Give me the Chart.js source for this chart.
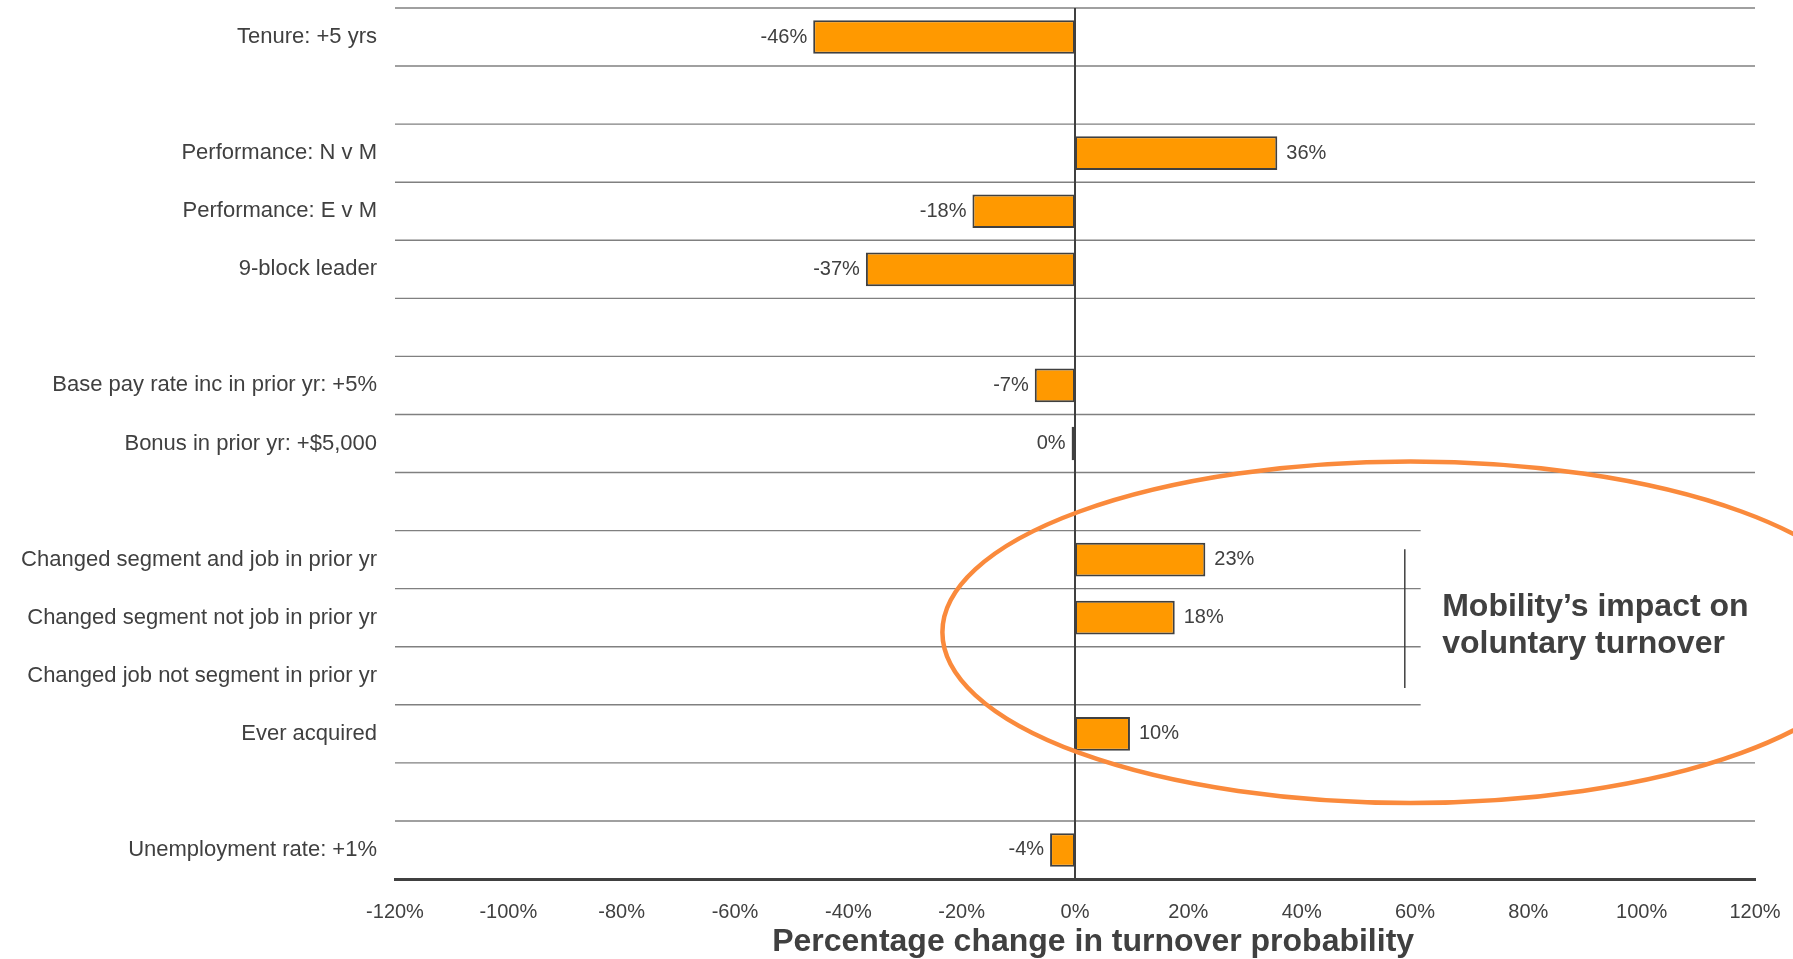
<!DOCTYPE html>
<html>
<head>
<meta charset="utf-8">
<script src="https://cdn.jsdelivr.net/npm/chart.js@4"></script>
<style>
  html, body { margin: 0; padding: 0; background: #ffffff; }
  #turnover-chart { display: block; }
</style>
</head>
<body>
<canvas id="turnover-chart" width="1793" height="959"></canvas>
<script>
const FONT = '"Liberation Sans", Arial, sans-serif';
const TEXT_COLOR = "#404040";

// --- Data ---
const categories = [
  "Tenure: +5 yrs",
  "",
  "Performance: N v M",
  "Performance: E v M",
  "9-block leader",
  "",
  "Base pay rate inc in prior yr: +5%",
  "Bonus in prior yr: +$5,000",
  "",
  "Changed segment and job in prior yr",
  "Changed segment not job in prior yr",
  "Changed job not segment in prior yr",
  "Ever acquired",
  "",
  "Unemployment rate: +1%",
];
const changeValues = [-46.2, null, 35.7, -18.1, -36.9, null, -7.1, -0.6, null, 23.0, 17.6, null, 9.7, null, -4.4];
const barLabels = ["-46%", "", "36%", "-18%", "-37%", "", "-7%", "0%", "", "23%", "18%", "", "10%", "", "-4%"];
const xTickMin = -120;
const xTickMax = 120;
const xTickStep = 20;
const axisTitle = "Percentage change in turnover probability";
const noteLines = ["Mobility\u2019s impact on", "voluntary turnover"];
// rows whose top gridline stops short at the bracket
const shortLineRows = [9, 10, 11, 12];

// --- Row gridlines, zero line ---
const gridPlugin = {
  id: "rowGrid",
  beforeDatasetsDraw(chart) {
    const { ctx, chartArea, scales } = chart;
    const x = scales.x;
    const y = scales.y;
    ctx.save();
    ctx.strokeStyle = "#808080";
    ctx.lineWidth = 1.4;
    for (let i = 0; i < categories.length; i++) {
      const py = y.getPixelForValue(i - 0.5);
      const right = shortLineRows.includes(i) ? x.getPixelForValue(61) : chartArea.right;
      ctx.beginPath();
      ctx.moveTo(chartArea.left, py);
      ctx.lineTo(right, py);
      ctx.stroke();
    }
    const zx = x.getPixelForValue(0);
    ctx.strokeStyle = TEXT_COLOR;
    ctx.lineWidth = 2;
    ctx.beginPath();
    ctx.moveTo(zx, chartArea.top);
    ctx.lineTo(zx, chartArea.bottom);
    ctx.stroke();
    ctx.restore();
  },
};

// --- Value labels next to bars ---
const labelPlugin = {
  id: "barValueLabels",
  afterDatasetsDraw(chart) {
    const { ctx } = chart;
    const meta = chart.getDatasetMeta(0);
    ctx.save();
    ctx.font = `20px ${FONT}`;
    ctx.fillStyle = TEXT_COLOR;
    ctx.textBaseline = "middle";
    meta.data.forEach((bar, i) => {
      if (changeValues[i] === null) return;
      if (changeValues[i] < 0) {
        ctx.textAlign = "right";
        ctx.fillText(barLabels[i], bar.x - 6, bar.y);
      } else {
        ctx.textAlign = "left";
        ctx.fillText(barLabels[i], bar.x + 9, bar.y);
      }
    });
    ctx.restore();
  },
};

// --- Ellipse, bracket, note and axis title ---
const notePlugin = {
  id: "mobilityNote",
  afterDraw(chart) {
    const { ctx, chartArea, scales } = chart;
    const x = scales.x;
    const y = scales.y;
    ctx.save();

    // bracket
    const bx = x.getPixelForValue(58.2);
    ctx.strokeStyle = TEXT_COLOR;
    ctx.lineWidth = 1.5;
    ctx.beginPath();
    ctx.moveTo(bx, y.getPixelForValue(8.82));
    ctx.lineTo(bx, y.getPixelForValue(11.21));
    ctx.stroke();

    // note text
    ctx.font = `bold 32px ${FONT}`;
    ctx.fillStyle = TEXT_COLOR;
    ctx.textAlign = "left";
    ctx.textBaseline = "alphabetic";
    const tx = x.getPixelForValue(64.8);
    ctx.fillText(noteLines[0], tx, y.getPixelForValue(9.97));
    ctx.fillText(noteLines[1], tx, y.getPixelForValue(10.61));

    // ellipse
    const cx = x.getPixelForValue(59.2);
    const cy = y.getPixelForValue(10.25);
    const rx = x.getPixelForValue(59.2 + 82.6) - cx;
    const ry = y.getPixelForValue(10.25 + 2.94) - cy;
    ctx.strokeStyle = "#FA8A3C";
    ctx.lineWidth = 4.5;
    ctx.beginPath();
    ctx.ellipse(cx, cy, rx, ry, 0, 0, Math.PI * 2);
    ctx.stroke();

    // axis title
    ctx.font = `bold 32px ${FONT}`;
    ctx.fillStyle = TEXT_COLOR;
    ctx.textAlign = "center";
    ctx.fillText(axisTitle, x.getPixelForValue(3.2), chartArea.bottom + 72);

    ctx.restore();
  },
};

const ctx = document.getElementById("turnover-chart").getContext("2d");

new Chart(ctx, {
  type: "bar",
  data: {
    labels: categories,
    datasets: [
      {
        data: changeValues,
        backgroundColor: "#FF9900",
        borderColor: TEXT_COLOR,
        borderWidth: 2,
        borderSkipped: false,
        barPercentage: 0.58,
        categoryPercentage: 1,
      },
    ],
  },
  options: {
    indexAxis: "y",
    responsive: false,
    animation: false,
    devicePixelRatio: 1,
    layout: {
      autoPadding: false,
      padding: { top: 8, right: 38, bottom: 0, left: 0 },
    },
    plugins: {
      legend: { display: false },
      tooltip: { enabled: false },
    },
    scales: {
      x: {
        min: xTickMin,
        max: xTickMax,
        grid: { display: false, drawTicks: false },
        border: { display: true, color: TEXT_COLOR, width: 3 },
        ticks: {
          stepSize: xTickStep,
          padding: 21,
          color: TEXT_COLOR,
          font: { family: FONT, size: 20 },
          callback: (v) => `${v}%`,
        },
        afterFit: (s) => {
          s.height = 80;
          s.paddingLeft = 0;
          s.paddingRight = 0;
        },
      },
      y: {
        grid: { display: false, drawTicks: false },
        border: { display: false },
        ticks: {
          autoSkip: false,
          padding: 18,
          color: TEXT_COLOR,
          font: { family: FONT, size: 22 },
        },
        afterFit: (s) => {
          s.width = 395;
          s.paddingTop = 0;
          s.paddingBottom = 0;
        },
      },
    },
  },
  plugins: [gridPlugin, labelPlugin, notePlugin],
});
</script>
</body>
</html>
